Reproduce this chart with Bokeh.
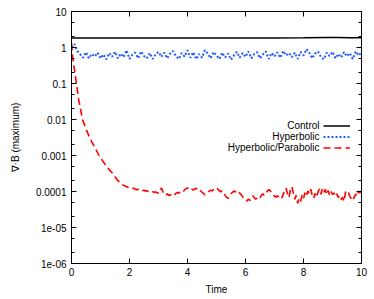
import numpy as np
from bokeh.plotting import figure
from bokeh.models import (Legend, LegendItem, Label, FixedTicker, LogAxis,
                          LinearAxis, CustomLabelingPolicy)
from bokeh.core.properties import value
from bokeh.embed import file_html
from bokeh.resources import INLINE

# ---------------- data ----------------
control_t = [0, 1, 2, 3, 4, 5, 6, 7, 8, 8.8, 9.2, 9.6, 10]
control_v = [1.85, 1.85, 1.85, 1.85, 1.85, 1.85, 1.85, 1.85, 1.86, 1.9, 1.9, 1.87, 1.86]

hyper_t = [round(0.1 * i, 1) for i in range(101)]
hyper_v = [1.0, 1.25, 0.8, 0.64, 0.52, 0.74, 0.5, 0.66, 0.56, 0.72,
           0.5, 0.64, 0.47, 0.7, 0.55, 0.76, 0.5, 0.68, 0.54, 0.84,
           0.48, 0.63, 0.72, 0.5, 0.78, 0.58, 0.5, 0.7, 0.48, 0.64,
           0.76, 0.55, 0.72, 0.5, 0.68, 0.8, 0.58, 0.48, 0.7, 0.56,
           0.84, 0.52, 0.74, 0.47, 0.66, 0.52, 0.84, 0.68, 0.5, 0.75,
           0.6, 0.48, 0.72, 0.53, 0.68, 0.46, 0.6, 0.76, 0.52, 0.7,
           0.55, 0.78, 0.5, 0.66, 0.74, 0.5, 0.64, 0.78, 0.48, 0.7,
           0.56, 0.73, 0.52, 0.8, 0.6, 0.7, 0.54, 0.72, 0.48, 0.75,
           0.6, 0.9, 0.72, 0.5, 0.68, 0.78, 0.55, 0.47, 0.72, 0.58,
           0.76, 0.5, 0.66, 0.53, 0.75, 0.57, 0.7, 0.48, 0.78, 0.6,
           0.72]

# initial decay of the hyperbolic/parabolic run
parab_head_t = [0, 0.05, 0.1, 0.17, 0.25, 0.38, 0.5, 0.6, 0.7, 0.8,
                0.95, 1.1, 1.25, 1.4, 1.6, 1.75, 1.9]
parab_head_v = [1.3, 0.45, 0.25, 0.1, 0.035, 0.01, 0.0055, 0.0035, 0.0024, 0.0017,
                0.001, 0.00066, 0.00045, 0.00033, 0.0002, 0.000155, 0.000135]
# noisy plateau, t = 2 .. 10 every 0.05, in units of 1e-5
parab_tail_e5 = [12.6, 12.2, 11.9, 12.3, 11.6, 11.2, 11.5, 10.9, 11.3, 10.6,
                 10.8, 10.2, 10.6, 10.0, 10.3, 9.7, 9.9, 9.4, 9.8, 9.2,
                 9.0, 10.8, 12.5, 10.1, 8.4, 7.9, 8.6, 7.7, 8.2, 7.8,
                 8.5, 8.0, 8.9, 9.4, 9.0, 9.9, 10.4, 9.8, 11.0, 12.1,
                 12.6, 11.4, 10.8, 11.6, 10.9, 11.8, 12.3, 11.1, 11.7, 10.5,
                 9.6, 8.9, 8.1, 8.7, 9.5, 10.2, 10.9, 10.4, 11.5, 12.4,
                 12.8, 11.6, 10.5, 9.8, 10.6, 9.1, 7.8, 6.9, 6.5, 7.4,
                 8.6, 9.5, 10.3, 9.7, 10.8, 10.1, 9.0, 8.2, 7.1, 6.4,
                 5.9, 5.4, 6.2, 5.6, 6.9, 7.6, 6.8, 6.1, 6.6, 7.3,
                 6.7, 7.9, 8.6, 7.7, 8.9, 10.2, 11.3, 10.5, 9.3, 8.1,
                 7.4, 7.0, 7.6, 6.9, 7.5, 6.6, 8.3, 10.9, 12.4, 8.6,
                 6.8, 11.2, 13.6, 8.9, 6.1, 7.8, 4.7, 6.3, 5.2, 8.1,
                 6.4, 9.2, 7.3, 10.4, 8.6, 11.5, 7.9, 6.5, 8.8, 6.9,
                 9.7, 11.9, 8.4, 12.1, 9.6, 11.4, 8.2, 10.7, 7.8, 9.9,
                 8.3, 9.1, 7.2, 8.6, 6.8, 7.7, 6.0, 6.9, 5.3, 9.8,
                 10.6, 9.4, 7.3, 6.2, 5.6, 7.0, 8.5, 7.4, 10.3, 9.1,
                 11.6]

y_major = [1e-6, 1e-5, 1e-4, 1e-3, 1e-2, 0.1, 1, 10]
y_minor = [2e-6, 5e-6, 2e-5, 5e-5, 2e-4, 5e-4, 2e-3, 5e-3,
           2e-2, 5e-2, 0.2, 0.5, 2, 5]
y_labels = ["1e-06", "1e-05", "0.0001", "0.001", "0.01", "0.1", "1", "10"]
x_major = [0, 2, 4, 6, 8, 10]

legend_names = ["Control", "Hyperbolic", "Hyperbolic/Parabolic"]

# ---------------- build ----------------
parab_tail_t = np.linspace(2.0, 10.0, len(parab_tail_e5))
parab_t = np.concatenate([parab_head_t, parab_tail_t])
parab_v = np.concatenate([parab_head_v, np.array(parab_tail_e5) * 1e-5])

FONT = "Liberation Sans"

p = figure(width=374, height=299, y_axis_type="log",
           x_range=(0, 10), y_range=(1e-6, 10),
           output_backend="svg", toolbar_location=None,
           min_border_left=71, min_border_right=13,
           min_border_top=11, min_border_bottom=36)
p.xgrid.visible = False
p.ygrid.visible = False
p.outline_line_color = "black"
p.outline_line_width = 1
p.background_fill_color = "white"
p.border_fill_color = "white"

r_ctrl = p.line(control_t, control_v, line_color="black", line_width=1.5)
r_hyp = p.line(hyper_t, hyper_v, line_color="#1f5cff", line_width=2,
               line_dash="2 2")
r_par = p.line(parab_t, parab_v, line_color="#ff0000", line_width=1.6,
               line_dash="7 4")

yt = FixedTicker(ticks=y_major, minor_ticks=y_minor)
xt = FixedTicker(ticks=x_major, minor_ticks=[])
overrides = {float(v): s for v, s in zip(y_major, y_labels)}


def style_axis(ax):
    ax.major_tick_in = 5
    ax.major_tick_out = 0
    ax.minor_tick_in = 3
    ax.minor_tick_out = 0
    ax.axis_line_color = "black"
    ax.major_tick_line_color = "black"
    ax.minor_tick_line_color = "black"
    ax.major_label_text_font = FONT
    ax.major_label_text_font_size = "10px"
    ax.major_label_text_color = "black"
    ax.axis_label_text_font = FONT
    ax.axis_label_text_font_size = "10px"
    ax.axis_label_text_font_style = "normal"
    ax.axis_label_text_color = "black"


yax = p.yaxis[0]
yax.ticker = yt
style_axis(yax)
yax.major_label_overrides = overrides
yax.major_label_standoff = 5
yax.axis_label = "∇·B (maximum)"
yax.axis_label_standoff = 12

xax = p.xaxis[0]
xax.ticker = xt
style_axis(xax)
xax.major_label_standoff = 4
xax.axis_label = "Time"
xax.axis_label_standoff = 5

# mirrored ticks on the right and top (labels suppressed)
no_labels = CustomLabelingPolicy(code="return new indices.constructor(indices.size)")
for ax, side in ((LogAxis(ticker=yt), "right"), (LinearAxis(ticker=xt), "above")):
    style_axis(ax)
    ax.major_label_text_font_size = "1px"
    ax.major_label_text_alpha = 0
    ax.major_label_standoff = 0
    ax.major_label_policy = no_labels
    p.add_layout(ax, side)

# legend: samples on the right, labels right-aligned to their left
legend = Legend(items=[LegendItem(label=value(""), renderers=[r]) for r in (r_ctrl, r_hyp, r_par)],
                location=(252, 110), padding=0, margin=0, spacing=0,
                glyph_width=27, glyph_height=11, label_height=11,
                label_width=2, label_standoff=0,
                border_line_alpha=0, background_fill_alpha=0,
                label_text_font=FONT, label_text_font_size="10px")
p.add_layout(legend)

for i, name in enumerate(legend_names):
    p.add_layout(Label(x=248, y=138 - 11 * i, x_units="screen", y_units="screen",
                       text=name, text_align="right", text_baseline="middle",
                       text_font=FONT, text_font_size="10px", text_color="black"))

open("out.html", "w").write(file_html(p, INLINE))
